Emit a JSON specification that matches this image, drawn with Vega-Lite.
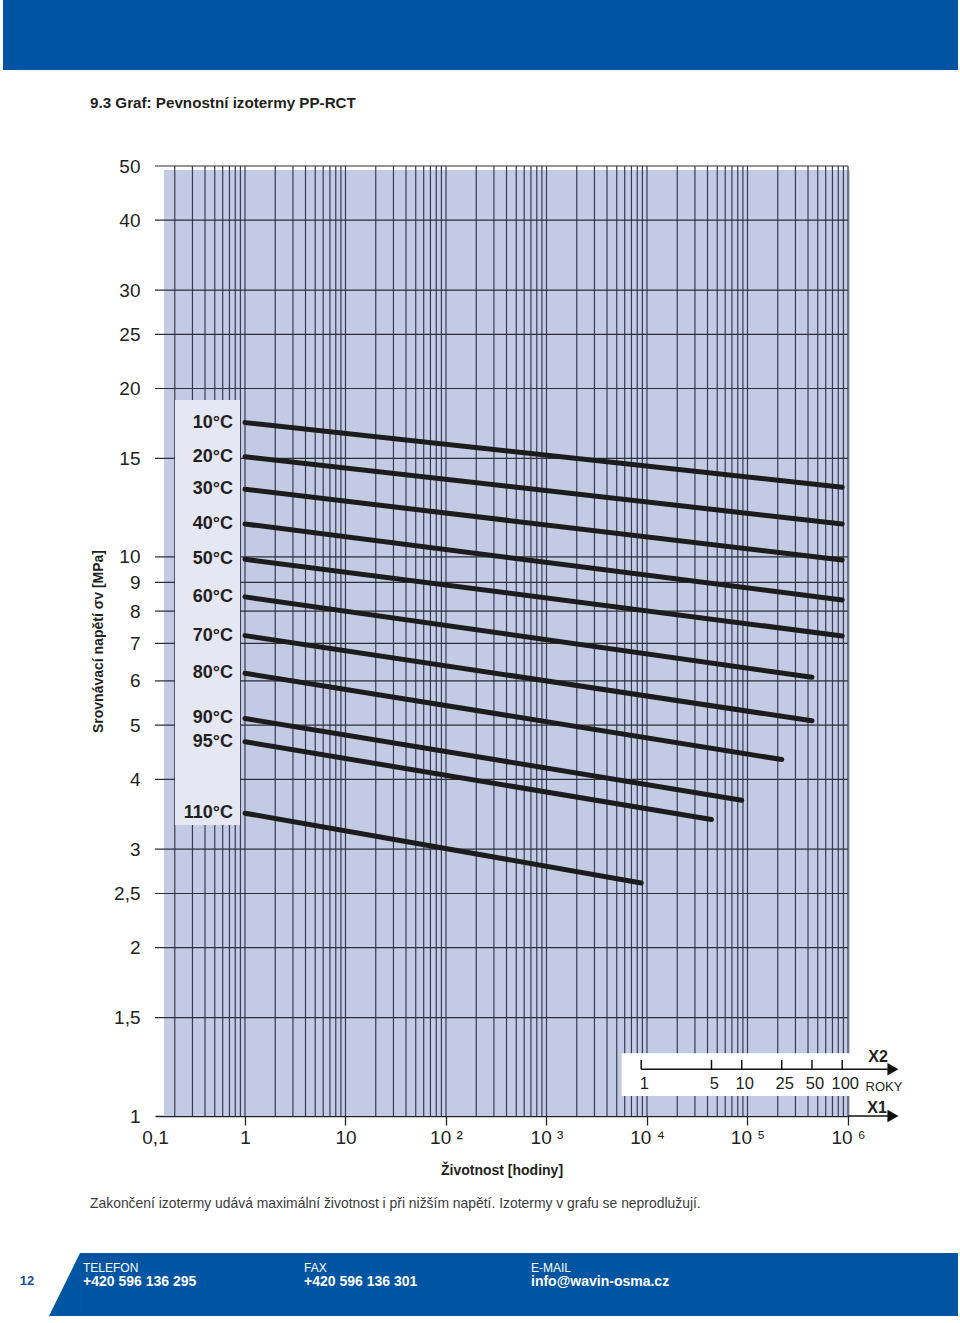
{
  "$schema": "https://vega.github.io/schema/vega-lite/v6.json",
  "width": 693,
  "height": 950,
  "autosize": {"type": "none"},
  "padding": {"left": 155, "top": 166, "right": 112, "bottom": 207},
  "background": "white",
  "config": {"view": {"stroke": null}, "font": "Liberation Sans"},
  "datasets": {
    "isotherms": [
      {"temp": "10°C", "hours": 1, "stress": 17.38}, {"temp": "10°C", "hours": 876000, "stress": 13.32},
      {"temp": "20°C", "hours": 1, "stress": 15.10}, {"temp": "20°C", "hours": 876000, "stress": 11.45},
      {"temp": "30°C", "hours": 1, "stress": 13.21}, {"temp": "30°C", "hours": 876000, "stress": 9.87},
      {"temp": "40°C", "hours": 1, "stress": 11.45}, {"temp": "40°C", "hours": 876000, "stress": 8.37},
      {"temp": "50°C", "hours": 1, "stress": 9.90}, {"temp": "50°C", "hours": 876000, "stress": 7.22},
      {"temp": "60°C", "hours": 1, "stress": 8.48}, {"temp": "60°C", "hours": 438000, "stress": 6.09},
      {"temp": "70°C", "hours": 1, "stress": 7.23}, {"temp": "70°C", "hours": 438000, "stress": 5.09},
      {"temp": "80°C", "hours": 1, "stress": 6.19}, {"temp": "80°C", "hours": 219000, "stress": 4.34},
      {"temp": "90°C", "hours": 1, "stress": 5.14}, {"temp": "90°C", "hours": 87600, "stress": 3.67},
      {"temp": "95°C", "hours": 1, "stress": 4.67}, {"temp": "95°C", "hours": 43800, "stress": 3.39},
      {"temp": "110°C", "hours": 1, "stress": 3.48}, {"temp": "110°C", "hours": 8760, "stress": 2.61}
    ],
    "gridx": [
      {"h": 0.2}, {"h": 0.3}, {"h": 0.4}, {"h": 0.5}, {"h": 0.6}, {"h": 0.7}, {"h": 0.8}, {"h": 0.9},
      {"h": 1}, {"h": 2}, {"h": 3}, {"h": 4}, {"h": 5}, {"h": 6}, {"h": 7}, {"h": 8}, {"h": 9},
      {"h": 10}, {"h": 20}, {"h": 30}, {"h": 40}, {"h": 50}, {"h": 60}, {"h": 70}, {"h": 80}, {"h": 90},
      {"h": 100}, {"h": 200}, {"h": 300}, {"h": 400}, {"h": 500}, {"h": 600}, {"h": 700}, {"h": 800}, {"h": 900},
      {"h": 1000}, {"h": 2000}, {"h": 3000}, {"h": 4000}, {"h": 5000}, {"h": 6000}, {"h": 7000}, {"h": 8000}, {"h": 9000},
      {"h": 10000}, {"h": 20000}, {"h": 30000}, {"h": 40000}, {"h": 50000}, {"h": 60000}, {"h": 70000}, {"h": 80000}, {"h": 90000},
      {"h": 100000}, {"h": 200000}, {"h": 300000}, {"h": 400000}, {"h": 500000}, {"h": 600000}, {"h": 700000}, {"h": 800000}, {"h": 900000},
      {"h": 1000000}
    ],
    "gridy": [
      {"v": 1.5}, {"v": 2}, {"v": 2.5}, {"v": 3}, {"v": 4}, {"v": 5}, {"v": 6}, {"v": 7}, {"v": 8}, {"v": 9},
      {"v": 10}, {"v": 15}, {"v": 20}, {"v": 25}, {"v": 30}, {"v": 40}, {"v": 50}
    ],
    "years": [
      {"years": "1", "h": 8760}, {"years": "5", "h": 43800}, {"years": "10", "h": 87600},
      {"years": "25", "h": 219000}, {"years": "50", "h": 438000}, {"years": "100", "h": 876000}
    ]
  },
  "layer": [
    {
      "data": {"values": [{}]},
      "mark": {"type": "rect", "fill": "#0055a2"},
      "encoding": {
        "x": {"datum": 0.003908, "type": "quantitative"},
        "x2": {"datum": 12430000},
        "y": {"datum": 99.04, "type": "quantitative"},
        "y2": {"datum": 74.25}
      }
    },
    {
      "data": {"values": [{}]},
      "mark": {"type": "text", "text": "9.3 Graf: Pevnostní izotermy PP-RCT", "align": "left", "baseline": "middle", "fontSize": 15.2, "fontWeight": "bold", "fill": "#231f20"},
      "encoding": {
        "x": {"datum": 0.02869, "type": "quantitative"},
        "y": {"datum": 64.8, "type": "quantitative"}
      }
    },
    {
      "data": {"values": [{}]},
      "mark": {"type": "rect", "fill": "#c3cbe4"},
      "encoding": {
        "x": {"datum": 0.1563, "type": "quantitative"},
        "x2": {"datum": 1047000},
        "y": {"datum": 49.18, "type": "quantitative"},
        "y2": {"datum": 1}
      }
    },
    {
      "data": {"name": "gridx"},
      "mark": {"type": "rule", "stroke": "#363d52", "strokeWidth": 1.2},
      "encoding": {"x": {"field": "h", "type": "quantitative"}}
    },
    {
      "data": {"name": "gridy"},
      "mark": {"type": "rule", "stroke": "#2b2f3a", "strokeWidth": 1.2},
      "encoding": {"y": {"field": "v", "type": "quantitative"}}
    },
    {
      "data": {"values": [{}]},
      "mark": {"type": "rect", "fill": "#e5e7f3"},
      "encoding": {
        "x": {"datum": 0.2011, "type": "quantitative"},
        "x2": {"datum": 0.892},
        "y": {"datum": 19.08, "type": "quantitative"},
        "y2": {"datum": 3.314}
      }
    },
    {
      "data": {"values": [{}]},
      "mark": {"type": "rect", "fill": "white"},
      "encoding": {
        "x": {"datum": 5598, "type": "quantitative"},
        "x2": {"datum": 1100000},
        "y": {"datum": 1.295, "type": "quantitative"},
        "y2": {"datum": 1.0859}
      }
    },
    {
      "data": {"name": "isotherms"},
      "mark": {"type": "line", "stroke": "#1c1c1c", "strokeWidth": 5, "strokeCap": "round"},
      "encoding": {
        "detail": {"field": "temp"},
        "x": {
          "field": "hours", "type": "quantitative",
          "scale": {"type": "log", "domain": [0.1272, 1000000], "nice": false},
          "axis": {
            "values": [0.1272, 1, 10, 100, 1000, 10000, 100000, 1000000],
            "labelExpr": "datum.value < 0.5 ? '0,1' : datum.value < 5 ? '1' : datum.value < 50 ? '10' : datum.value < 500 ? '10 ²' : datum.value < 5000 ? '10 ³' : datum.value < 50000 ? '10 ⁴' : datum.value < 500000 ? '10 ⁵' : '10 ⁶'",
            "labelFlush": false, "labelOverlap": false, "labelFontSize": 19, "labelColor": "#231f20", "labelPadding": 3,
            "grid": false, "domain": true, "domainColor": "#222222", "domainWidth": 1.3,
            "ticks": true, "tickSize": 9, "tickColor": "#222222", "tickWidth": 1.3,
            "tickOpacity": {"condition": {"test": "datum.value < 0.5", "value": 0}, "value": 1},
            "title": "Životnost [hodiny]", "titleFontSize": 14, "titleFontWeight": "bold", "titleColor": "#231f20", "titlePadding": 16
          }
        },
        "y": {
          "field": "stress", "type": "quantitative",
          "scale": {"type": "log", "domain": [1, 50], "nice": false},
          "axis": {
            "values": [1, 1.5, 2, 2.5, 3, 4, 5, 6, 7, 8, 9, 10, 15, 20, 25, 30, 40, 50],
            "labelExpr": "replace(datum.label, '.', ',')",
            "labelFlush": false, "labelOverlap": false, "labelFontSize": 19, "labelColor": "#231f20", "labelPadding": 15,
            "grid": false, "domain": false, "ticks": false, "tickSize": 0,
            "title": "Srovnávací napětí σv [MPa]", "titleFontSize": 14, "titleFontWeight": "bold", "titleColor": "#231f20", "titlePadding": 8
          }
        }
      }
    },
    {
      "data": {"name": "isotherms"},
      "transform": [{"filter": "datum.hours == 1"}],
      "mark": {"type": "text", "align": "right", "baseline": "middle", "dx": -12, "fontSize": 18, "fontWeight": "bold", "fill": "#231f20"},
      "encoding": {
        "x": {"field": "hours", "type": "quantitative"},
        "y": {"field": "stress", "type": "quantitative"},
        "text": {"field": "temp"}
      }
    },
    {
      "data": {"values": [{}]},
      "mark": {"type": "rule", "stroke": "#111111", "strokeWidth": 1.5},
      "encoding": {
        "x": {"datum": 8760, "type": "quantitative"},
        "x2": {"datum": 2620000},
        "y": {"datum": 1.2123, "type": "quantitative"}
      }
    },
    {
      "data": {"values": [{}]},
      "mark": {"type": "rule", "stroke": "#111111", "strokeWidth": 1.5},
      "encoding": {
        "x": {"datum": 1000000, "type": "quantitative"},
        "x2": {"datum": 2620000},
        "y": {"datum": 1, "type": "quantitative"}
      }
    },
    {
      "data": {"values": [{}]},
      "mark": {"type": "point", "shape": "triangle-right", "filled": true, "color": "#111111", "size": 160, "opacity": 1},
      "encoding": {
        "x": {"datum": 2800000, "type": "quantitative"},
        "y": {"datum": 1.2123, "type": "quantitative"}
      }
    },
    {
      "data": {"values": [{}]},
      "mark": {"type": "point", "shape": "triangle-right", "filled": true, "color": "#111111", "size": 160, "opacity": 1},
      "encoding": {
        "x": {"datum": 2800000, "type": "quantitative"},
        "y": {"datum": 1, "type": "quantitative"}
      }
    },
    {
      "data": {"name": "years"},
      "mark": {"type": "rule", "stroke": "#111111", "strokeWidth": 1.5},
      "encoding": {
        "x": {"field": "h", "type": "quantitative"},
        "y": {"datum": 1.2123, "type": "quantitative"},
        "y2": {"datum": 1.2594}
      }
    },
    {
      "data": {"name": "years"},
      "mark": {"type": "text", "align": "center", "baseline": "middle", "dx": 3, "fontSize": 16.5, "fill": "#231f20"},
      "encoding": {
        "x": {"field": "h", "type": "quantitative"},
        "y": {"datum": 1.1394, "type": "quantitative"},
        "text": {"field": "years"}
      }
    },
    {
      "data": {"values": [{}]},
      "mark": {"type": "text", "text": "X2", "align": "center", "baseline": "middle", "fontSize": 16, "fontWeight": "bold", "fill": "#231f20"},
      "encoding": {
        "x": {"datum": 1989000, "type": "quantitative"},
        "y": {"datum": 1.2752, "type": "quantitative"}
      }
    },
    {
      "data": {"values": [{}]},
      "mark": {"type": "text", "text": "ROKY", "align": "center", "baseline": "middle", "fontSize": 13, "fill": "#231f20"},
      "encoding": {
        "x": {"datum": 2280000, "type": "quantitative"},
        "y": {"datum": 1.128, "type": "quantitative"}
      }
    },
    {
      "data": {"values": [{}]},
      "mark": {"type": "text", "text": "X1", "align": "center", "baseline": "middle", "fontSize": 16, "fontWeight": "bold", "fill": "#231f20"},
      "encoding": {
        "x": {"datum": 1944000, "type": "quantitative"},
        "y": {"datum": 1.0335, "type": "quantitative"}
      }
    },
    {
      "data": {"values": [{}]},
      "mark": {"type": "text", "text": "Zakončení izotermy udává maximální životnost i při nižším napětí. Izotermy v grafu se neprodlužují.", "align": "left", "baseline": "middle", "fontSize": 13.9, "fill": "#3a3a3a"},
      "encoding": {
        "x": {"datum": 0.02869, "type": "quantitative"},
        "y": {"datum": 0.6958, "type": "quantitative"}
      }
    },
    {
      "data": {"values": [{}]},
      "mark": {"type": "rect", "fill": "#0055a2"},
      "encoding": {
        "x": {"datum": 0.02282, "type": "quantitative"},
        "x2": {"datum": 12430000},
        "y": {"datum": 0.5689, "type": "quantitative"},
        "y2": {"datum": 0.4388}
      }
    },
    {
      "data": {"values": [{}]},
      "mark": {"type": "point", "shape": "M 0.492 -1 L 0.492 1 L -0.492 1 Z", "filled": true, "color": "#0055a2", "size": 3969, "opacity": 1},
      "encoding": {
        "x": {"datum": 0.016, "type": "quantitative"},
        "y": {"datum": 0.4995, "type": "quantitative"}
      }
    },
    {
      "data": {"values": [{}]},
      "mark": {"type": "text", "text": "12", "align": "center", "baseline": "middle", "fontSize": 13, "fontWeight": "bold", "fill": "#1a4f9c"},
      "encoding": {
        "x": {"datum": 0.00677, "type": "quantitative"},
        "y": {"datum": 0.5069, "type": "quantitative"}
      }
    },
    {
      "data": {"values": [{"label": "TELEFON", "h": 0.02443}, {"label": "FAX", "h": 3.865}, {"label": "E-MAIL", "h": 701.3}]},
      "mark": {"type": "text", "align": "left", "baseline": "middle", "fontSize": 12, "fill": "white"},
      "encoding": {
        "x": {"field": "h", "type": "quantitative"},
        "y": {"datum": 0.5348, "type": "quantitative"},
        "text": {"field": "label"}
      }
    },
    {
      "data": {"values": [{"label": "+420 596 136 295", "h": 0.02443}, {"label": "+420 596 136 301", "h": 3.865}, {"label": "info@wavin-osma.cz", "h": 701.3}]},
      "mark": {"type": "text", "align": "left", "baseline": "middle", "fontSize": 14, "fontWeight": "bold", "fill": "white"},
      "encoding": {
        "x": {"field": "h", "type": "quantitative"},
        "y": {"datum": 0.5048, "type": "quantitative"},
        "text": {"field": "label"}
      }
    }
  ]
}
